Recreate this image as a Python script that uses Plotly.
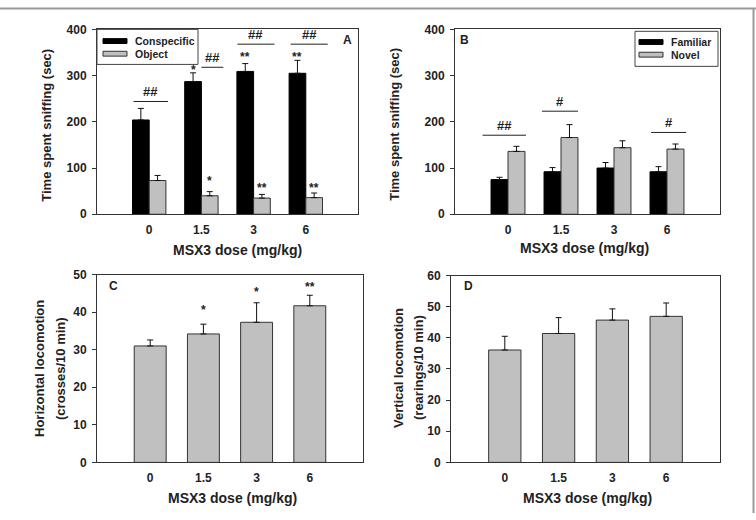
import plotly.graph_objects as go

W, H = 756, 520

doses = ["0", "1.5", "3", "6"]
xpos = [0, 1, 2, 3]

# Panel A: social interaction
conspecific = [204, 287, 309, 305]
conspecific_sem = [25, 19, 17, 28]
obj = [73, 40, 35, 36]
obj_sem = [11, 9, 8, 10]

# Panel B: novel object
familiar = [75, 92, 100, 92]
familiar_sem = [5, 9, 12, 11]
novel = [136, 166, 144, 141]
novel_sem = [11, 28, 15, 11]

# Panel C: horizontal locomotion
horizontal = [31.0, 34.2, 37.3, 41.7]
horizontal_sem = [1.6, 2.6, 5.2, 2.8]

# Panel D: vertical locomotion
vertical = [36.1, 41.4, 45.7, 46.9]
vertical_sem = [4.4, 5.1, 3.6, 4.3]

# significance marks: (x, y, text)
A_star_cons = [(1, 312, "*"), (2, 341, "**"), (3, 341, "**")]
A_star_obj = [(1, 72, "*"), (2, 57, "**"), (3, 57, "**")]
A_hash = [(0, 244, "##", -0.3, 0.36), (1, 318, "##", 0.0, 0.42), (2, 368, "##", -0.31, 0.4), (3, 368, "##", -0.29, 0.42)]
B_hash = [(0, 171, "##", -0.48, 0.34), (1, 223, "#", -0.36, 0.32), (3, 177, "#", -0.3, 0.36)]
C_star = [(1, "*", 40.7), (2, "*", 45.3), (3, "**", 46.6)]

BLACK = "#000000"
GRAY = "#c0c0c0"
EDGE = "#333333"
FONT = "Liberation Sans"


def px(x):
    return x / W


def py(y):
    return 1 - y / H


fig = go.Figure()

err_style = dict(type="data", symmetric=False, color="#111111", thickness=1, width=3)


def bar(x, y, sem, color, xa, ya, offset, width):
    e = dict(err_style)
    e["array"] = sem
    e["arrayminus"] = [0] * len(sem)
    return go.Bar(x=x, y=y, error_y=e, marker=dict(color=color, line=dict(color=EDGE if color != BLACK else BLACK, width=1)),
                  xaxis=xa, yaxis=ya, offset=offset, width=width, showlegend=False)


fig.add_trace(bar(xpos, conspecific, conspecific_sem, BLACK, "x", "y", -0.32, 0.32))
fig.add_trace(bar(xpos, obj, obj_sem, GRAY, "x", "y", 0.0, 0.32))
fig.add_trace(bar(xpos, familiar, familiar_sem, BLACK, "x2", "y2", -0.32, 0.32))
fig.add_trace(bar(xpos, novel, novel_sem, GRAY, "x2", "y2", 0.0, 0.32))
fig.add_trace(bar(xpos, horizontal, horizontal_sem, GRAY, "x3", "y3", -0.3, 0.6))
fig.add_trace(bar(xpos, vertical, vertical_sem, GRAY, "x4", "y4", -0.3, 0.6))

tickfont = dict(family=FONT, size=12, color="#222222", weight="bold")

domains = {
    1: ([px(97), px(358)], [py(213), py(23)], [0, 400], 100),
    2: ([px(455), px(720)], [py(213), py(23)], [0, 400], 100),
    3: ([px(97), px(363)], [py(468), py(275)], [0, 50], 10),
    4: ([px(451), px(720)], [py(468), py(276)], [0, 60], 10),
}

layout = dict(width=W, height=H, margin=dict(l=0, r=0, t=0, b=0), plot_bgcolor="white", paper_bgcolor="white",
              barmode="overlay", showlegend=False)
for i, (xd, yd, yr, dt) in domains.items():
    sfx = "" if i == 1 else str(i)
    layout["xaxis" + sfx] = dict(domain=xd, anchor="y" + sfx, range=[-1, 4], tickvals=xpos, ticktext=doses,
                                 ticks="", showgrid=False, zeroline=False, showline=True, linecolor=EDGE,
                                 linewidth=1, mirror=True, tickfont=tickfont, ticklabelstandoff=4)
    layout["yaxis" + sfx] = dict(domain=yd, anchor="x" + sfx, range=yr, dtick=dt, ticks="outside", ticklen=4,
                                 tickcolor=EDGE, showgrid=False, zeroline=False, showline=True, linecolor=EDGE,
                                 linewidth=1, mirror=True, tickfont=tickfont, ticklabelstandoff=3)
fig.update_layout(**layout)

ann = []
shapes = []


def txt(x, y, text, size=12, xref="paper", yref="paper", angle=0, xanchor="center", yanchor="middle"):
    ann.append(dict(x=x, y=y, xref=xref, yref=yref, text=text, showarrow=False, textangle=angle,
                    xanchor=xanchor, yanchor=yanchor,
                    font=dict(family=FONT, size=size, color="#222222", weight="bold")))


# axis titles
txt(px(47), py(122), "Time spent sniffing (sec)", 13, angle=-90)
txt(px(395), py(120), "Time spent sniffing (sec)", 13, angle=-90)
txt(px(40), py(372), "Horizontal locomotion", 13, angle=-90)
txt(px(61), py(372), "(crosses/10 min)", 13, angle=-90)
txt(px(398), py(371), "Vertical locomotion", 13, angle=-90)
txt(px(418), py(371), "(rearings/10 min)", 13, angle=-90)
for cx, cy in [(237, 250), (584, 248), (232, 505), (587, 505)]:
    txt(px(cx), py(cy), "MSX3 dose (mg/kg)", 14)

# panel letters
txt(px(347), py(34), "A", 12)
txt(px(464), py(34), "B", 12)
txt(px(113), py(287), "C", 12)
txt(px(468), py(287), "D", 12)

# significance in A
for x, y, t in A_star_cons:
    txt(x - 0.16, y, t, 12, xref="x", yref="y")
for x, y, t in A_star_obj:
    txt(x + 0.16, y, t, 12, xref="x", yref="y")
for x, y, t, x0, x1 in A_hash:
    txt((x + x0 + x + x1) / 2, y, t, 13, xref="x", yref="y", yanchor="bottom")
    shapes.append(dict(type="line", xref="x", yref="y", x0=x + x0, x1=x + x1, y0=y, y1=y,
                       line=dict(color="#222222", width=1)))
for x, y, t, x0, x1 in B_hash:
    txt((x + x0 + x + x1) / 2, y, t, 13, xref="x2", yref="y2", yanchor="bottom")
    shapes.append(dict(type="line", xref="x2", yref="y2", x0=x + x0, x1=x + x1, y0=y, y1=y,
                       line=dict(color="#222222", width=1)))
for x, t, y in C_star:
    txt(x, y, t, 12, xref="x3", yref="y3")

# legends
def legend(box, entries):
    bx0, by0, bx1, by1 = box
    shapes.append(dict(type="rect", xref="paper", yref="paper", x0=px(bx0), x1=px(bx1), y0=py(by1), y1=py(by0),
                       line=dict(color="#444444", width=1), fillcolor="white", layer="above"))
    for (sx0, sx1, sy, color, label) in entries:
        shapes.append(dict(type="rect", xref="paper", yref="paper", x0=px(sx0), x1=px(sx1), y0=py(sy + 2.5),
                           y1=py(sy - 2.5), line=dict(color=EDGE if color != BLACK else BLACK, width=1),
                           fillcolor=color, layer="above"))
        txt(px(sx1 + 6), py(sy), label, 10.5, xanchor="left")


legend((97, 23, 198, 59), [(103, 127, 35, BLACK, "Conspecific"), (103, 127, 48, GRAY, "Object")])
legend((635, 25, 718, 61), [(639, 663, 36, BLACK, "Familiar"), (639, 663, 49, GRAY, "Novel")])

# outer frame lines
shapes.append(dict(type="line", xref="paper", yref="paper", x0=0, x1=1, y0=py(1.5), y1=py(1.5),
                   line=dict(color="#999999", width=2)))
shapes.append(dict(type="line", xref="paper", yref="paper", x0=px(753.5), x1=px(753.5), y0=0, y1=py(1),
                   line=dict(color="#999999", width=2)))

fig.update_layout(annotations=ann, shapes=shapes)
fig.write_html("out.html")
